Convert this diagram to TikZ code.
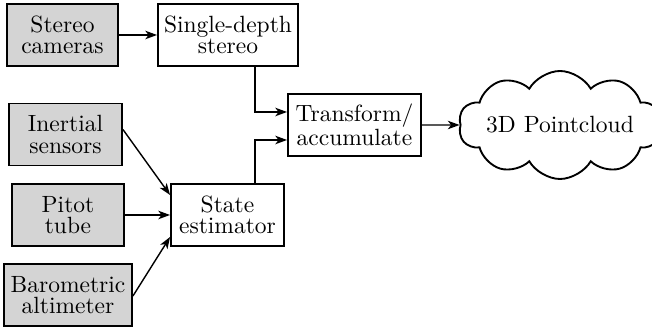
\documentclass[tikz,border=0pt]{standalone}
\usetikzlibrary{arrows.meta,shapes.symbols,calc}
\begin{document}
\begin{tikzpicture}[x=0.4255pt,y=-0.4255pt,
  every node/.style={font=\fontsize{10}{9.2}\selectfont, align=center},
  box/.style={draw, line width=0.8pt, rectangle, inner sep=0pt, minimum height={62*0.4255pt}},
  src/.style={box, fill=black!17},
  arr/.style={line width=0.6pt, -{Stealth[length=5pt,width=3.6pt,inset=1.4pt]}}
]
\useasboundingbox (0,0) rectangle (652,328);
\node[src, minimum width={111*0.4255pt}] (sc) at (62.5,35) {Stereo\\cameras};
\node[box, minimum width={140*0.4255pt}] (sd) at (228,35) {Single-depth\\stereo};
\node[src, minimum width={113*0.4255pt}] (is) at (65.5,134.5) {Inertial\\sensors};
\node[src, minimum width={112*0.4255pt}] (pt) at (68,215) {Pitot\\tube};
\node[box, minimum width={113*0.4255pt}] (se) at (227.5,215) {State\\estimator};
\node[src, minimum width={128*0.4255pt}] (ba) at (68,295) {Barometric\\altimeter};
\node[box, minimum width={133*0.4255pt}] (tr) at (354.5,125) {Transform/\\accumulate};
\node[cloud, draw, line width=0.8pt, cloud puffs=10, cloud puff arc=120, cloud ignores aspect,
      minimum width={194*0.4255pt}, minimum height={108*0.4255pt}, inner sep=0pt] (cl) at (560,125) {3D Pointcloud};
\draw[arr] (sc.east) -- (sd.west);
\draw[arr] ($(sd.south)+(27,0)$) |- ($(tr.west)+(0,-13)$);
\draw[arr] ($(se.north)+(27.5,0)$) |- ($(tr.west)+(0,15)$);
\draw[arr] ($(is.east)+(0,-5)$) -- ($(se.west)+(0,-20)$);
\draw[arr] (pt.east) -- (se.west);
\draw[arr] ($(ba.east)+(0,1)$) -- ($(se.west)+(0,22)$);
\draw[arr] (tr.east) -- (cl.west);
\end{tikzpicture}
\end{document}
